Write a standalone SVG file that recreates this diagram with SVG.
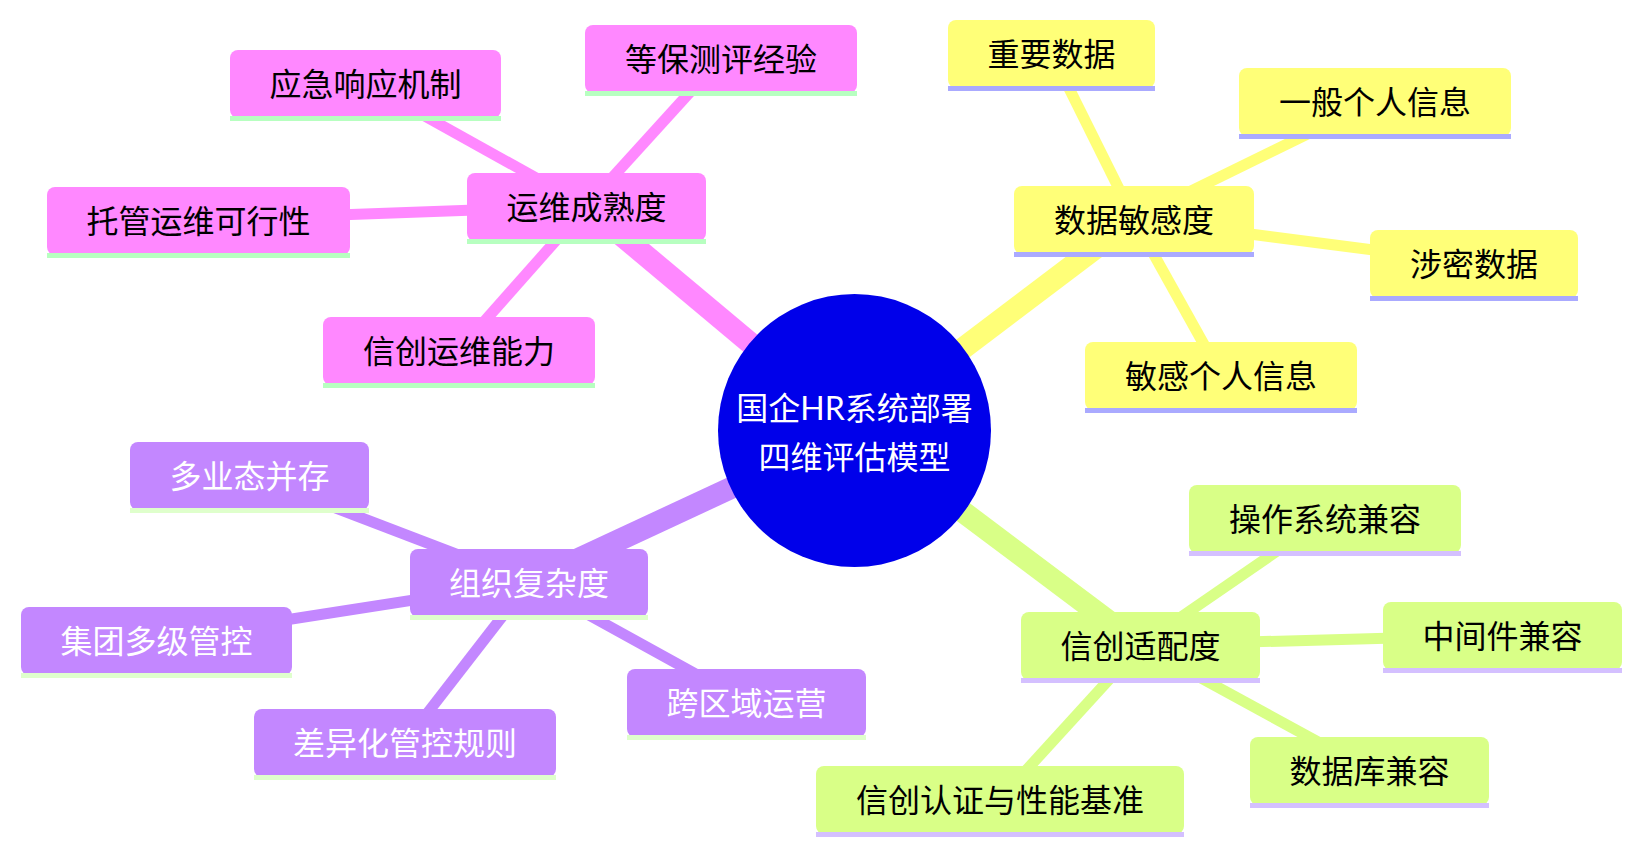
<svg xmlns="http://www.w3.org/2000/svg" width="1641" height="853" viewBox="0 0 1641 853">
<style>
text{font-family:"Noto Sans CJK SC","Noto Sans",sans-serif;font-size:32px;text-anchor:middle;dominant-baseline:central}
.root-t{font-family:"Lato","Noto Sans CJK SC",sans-serif;fill:#ffffff}
.e1{stroke-width:22;stroke-linecap:butt;fill:none}
.e2{stroke-width:11;stroke-linecap:butt;fill:none}
.pk{fill:#ff88ff}.pkl{stroke:#ff88ff}.pks{fill:#b7ffc0}
.yw{fill:#ffff78}.ywl{stroke:#ffff78}.yws{fill:#aaaaff}
.gr{fill:#d9ff87}.grl{stroke:#d9ff87}.grs{fill:#d4c0ff}
.pu{fill:#c387ff}.pul{stroke:#c387ff}.pus{fill:#dfffcc}
.dk{fill:#000000}.wt{fill:#ffffff}
</style>
<rect width="1641" height="853" fill="#ffffff"/>
<g id="connectors">
<line class="e1 pkl" x1="854.5" y1="430.5" x2="586.5" y2="206"/>
<line class="e2 pkl" x1="586.5" y1="206" x2="721" y2="58"/>
<line class="e2 pkl" x1="586.5" y1="206" x2="365.5" y2="83"/>
<line class="e2 pkl" x1="586.5" y1="206" x2="198.5" y2="220"/>
<line class="e2 pkl" x1="586.5" y1="206" x2="459" y2="350"/>
<line class="e1 ywl" x1="854.5" y1="430.5" x2="1134" y2="219"/>
<line class="e2 ywl" x1="1134" y1="219" x2="1051.5" y2="53"/>
<line class="e2 ywl" x1="1134" y1="219" x2="1375" y2="101"/>
<line class="e2 ywl" x1="1134" y1="219" x2="1474" y2="263"/>
<line class="e2 ywl" x1="1134" y1="219" x2="1221" y2="375"/>
<line class="e1 pul" x1="854.5" y1="430.5" x2="529" y2="582"/>
<line class="e2 pul" x1="529" y1="582" x2="249.5" y2="475"/>
<line class="e2 pul" x1="529" y1="582" x2="156.5" y2="640"/>
<line class="e2 pul" x1="529" y1="582" x2="405" y2="742"/>
<line class="e2 pul" x1="529" y1="582" x2="746.5" y2="702"/>
<line class="e1 grl" x1="854.5" y1="430.5" x2="1140.5" y2="645"/>
<line class="e2 grl" x1="1140.5" y1="645" x2="1325" y2="518"/>
<line class="e2 grl" x1="1140.5" y1="645" x2="1502.5" y2="635"/>
<line class="e2 grl" x1="1140.5" y1="645" x2="1369.5" y2="770"/>
<line class="e2 grl" x1="1140.5" y1="645" x2="1000" y2="799"/>
</g>
<g id="root">
<circle cx="854.5" cy="430.5" r="136.5" fill="#0000ea"/>
<text class="root-t" x="854.5" y="407">国企HR系统部署</text>
<text class="root-t" x="854.5" y="456">四维评估模型</text>
</g>
<g id="n-ops">
<rect class="pk" x="467" y="173" width="239" height="68" rx="8"/><rect class="pks" x="467" y="239" width="239" height="5"/>
<text class="dk" x="586.5" y="205">运维成熟度</text>
</g>
<g id="n-dengbao">
<rect class="pk" x="585" y="25" width="272" height="68" rx="8"/><rect class="pks" x="585" y="91" width="272" height="5"/>
<text class="dk" x="721" y="57">等保测评经验</text>
</g>
<g id="n-emergency">
<rect class="pk" x="230" y="50" width="271" height="68" rx="8"/><rect class="pks" x="230" y="116" width="271" height="5"/>
<text class="dk" x="365.5" y="82">应急响应机制</text>
</g>
<g id="n-hosted">
<rect class="pk" x="47" y="187" width="303" height="68" rx="8"/><rect class="pks" x="47" y="253" width="303" height="5"/>
<text class="dk" x="198.5" y="219">托管运维可行性</text>
</g>
<g id="n-xcops">
<rect class="pk" x="323" y="317" width="272" height="68" rx="8"/><rect class="pks" x="323" y="383" width="272" height="5"/>
<text class="dk" x="459" y="349">信创运维能力</text>
</g>
<g id="n-data">
<rect class="yw" x="1014" y="186" width="240" height="68" rx="8"/><rect class="yws" x="1014" y="252" width="240" height="5"/>
<text class="dk" x="1134" y="218">数据敏感度</text>
</g>
<g id="n-important">
<rect class="yw" x="948" y="20" width="207" height="68" rx="8"/><rect class="yws" x="948" y="86" width="207" height="5"/>
<text class="dk" x="1051.5" y="52">重要数据</text>
</g>
<g id="n-general">
<rect class="yw" x="1239" y="68" width="272" height="68" rx="8"/><rect class="yws" x="1239" y="134" width="272" height="5"/>
<text class="dk" x="1375" y="100">一般个人信息</text>
</g>
<g id="n-secret">
<rect class="yw" x="1370" y="230" width="208" height="68" rx="8"/><rect class="yws" x="1370" y="296" width="208" height="5"/>
<text class="dk" x="1474" y="262">涉密数据</text>
</g>
<g id="n-sensitive">
<rect class="yw" x="1085" y="342" width="272" height="68" rx="8"/><rect class="yws" x="1085" y="408" width="272" height="5"/>
<text class="dk" x="1221" y="374">敏感个人信息</text>
</g>
<g id="n-org">
<rect class="pu" x="410" y="549" width="238" height="68" rx="8"/><rect class="pus" x="410" y="615" width="238" height="5"/>
<text class="wt" x="529" y="581">组织复杂度</text>
</g>
<g id="n-multi">
<rect class="pu" x="130" y="442" width="239" height="68" rx="8"/><rect class="pus" x="130" y="508" width="239" height="5"/>
<text class="wt" x="249.5" y="474">多业态并存</text>
</g>
<g id="n-group">
<rect class="pu" x="21" y="607" width="271" height="68" rx="8"/><rect class="pus" x="21" y="673" width="271" height="5"/>
<text class="wt" x="156.5" y="639">集团多级管控</text>
</g>
<g id="n-diff">
<rect class="pu" x="254" y="709" width="302" height="68" rx="8"/><rect class="pus" x="254" y="775" width="302" height="5"/>
<text class="wt" x="405" y="741">差异化管控规则</text>
</g>
<g id="n-region">
<rect class="pu" x="627" y="669" width="239" height="68" rx="8"/><rect class="pus" x="627" y="735" width="239" height="5"/>
<text class="wt" x="746.5" y="701">跨区域运营</text>
</g>
<g id="n-xc">
<rect class="gr" x="1021" y="612" width="239" height="68" rx="8"/><rect class="grs" x="1021" y="678" width="239" height="5"/>
<text class="dk" x="1140.5" y="644">信创适配度</text>
</g>
<g id="n-os">
<rect class="gr" x="1189" y="485" width="272" height="68" rx="8"/><rect class="grs" x="1189" y="551" width="272" height="5"/>
<text class="dk" x="1325" y="517">操作系统兼容</text>
</g>
<g id="n-mw">
<rect class="gr" x="1383" y="602" width="239" height="68" rx="8"/><rect class="grs" x="1383" y="668" width="239" height="5"/>
<text class="dk" x="1502.5" y="634">中间件兼容</text>
</g>
<g id="n-db">
<rect class="gr" x="1250" y="737" width="239" height="68" rx="8"/><rect class="grs" x="1250" y="803" width="239" height="5"/>
<text class="dk" x="1369.5" y="769">数据库兼容</text>
</g>
<g id="n-cert">
<rect class="gr" x="816" y="766" width="368" height="68" rx="8"/><rect class="grs" x="816" y="832" width="368" height="5"/>
<text class="dk" x="1000" y="798">信创认证与性能基准</text>
</g>
</svg>
